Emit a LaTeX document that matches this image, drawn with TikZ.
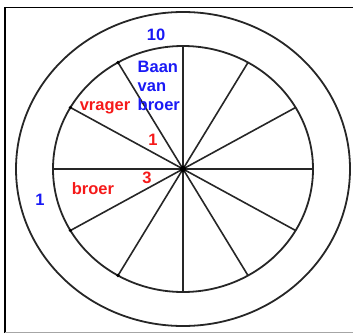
\documentclass[tikz,border=0pt]{standalone}
\usepackage{fontspec}
\setmainfont{Liberation Sans}
\usepackage{tikz}
\definecolor{baanblue}{RGB}{25,25,245}
\definecolor{vragerred}{RGB}{245,25,25}

\begin{document}
\begin{tikzpicture}[x=1pt, y=1pt,
  rim/.style={draw=black!85, line width=1.8pt},
  spoke/.style={draw=black!85, line width=1.6pt},
  bluelbl/.style={text=baanblue, font=\fontsize{16.5}{19}\selectfont\bfseries, inner sep=0pt},
  redlbl/.style={text=vragerred, font=\fontsize{16.5}{19}\selectfont\bfseries, inner sep=0pt},
]
\useasboundingbox (0,0) rectangle (353,333);

% ── Frame ──
\draw[black, line width=1.5pt] (5,0) -- (5,325.5) -- (353,325.5);
\draw[black!35, line width=1pt] (5,1) -- (353,1);

% ── Wheel ──
\coordinate (hub) at (183,164);
\draw[rim] (hub) ellipse [x radius=167, y radius=157];
\draw[rim] (hub) ellipse [x radius=130, y radius=123];

% spokes every 30 degrees
\foreach \a in {0,30,...,330}
  \draw[spoke] (hub) -- ++(\a:130 and 123) coordinate (end\a);

% small dots on the rim
\foreach \a in {120,150,210,240}
  \fill[black] (end\a) circle (1.8);

\fill[black] (hub) circle (3.2);

% ── Labels ──
\node[bluelbl] (ten) at (156,298) {10};
\node[bluelbl, anchor=west, align=left] (baan) at (137.5,247) {Baan\\van\\broer};
\node[bluelbl] (one) at (40,133) {1};

\node[redlbl] (vrager) at (105,225.5) {vrager};
\node[redlbl] (rone) at (153,193) {1};
\node[redlbl] (rthree) at (147,155) {3};
\node[redlbl] (broer) at (93,144) {broer};

\end{tikzpicture}
\end{document}
